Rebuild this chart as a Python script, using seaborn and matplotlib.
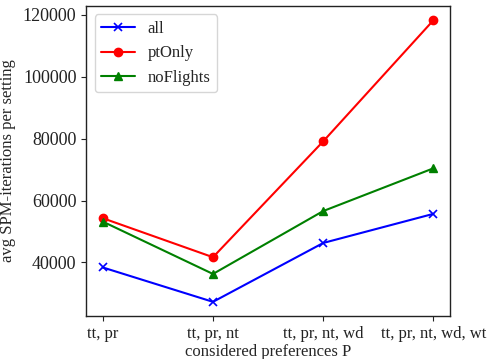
import matplotlib
matplotlib.use("Agg")
import matplotlib.pyplot as plt
import seaborn as sns
import pandas as pd

preferences = ["tt, pr", "tt, pr, nt", "tt, pr, nt, wd", "tt, pr, nt, wd, wt"]
all_iters = [38400, 27300, 46300, 55700]
pt_only_iters = [54300, 41700, 79100, 118200]
no_flights_iters = [53200, 36300, 56600, 70400]

series_names = ["all", "ptOnly", "noFlights"]
series_values = [all_iters, pt_only_iters, no_flights_iters]
series_colors = ["blue", "red", "green"]
series_markers = ["x", "o", "^"]

sns.set_style("ticks")
plt.rcParams["font.family"] = ["Liberation Serif", "DejaVu Serif"]
plt.rcParams["font.size"] = 12

fig = plt.figure(figsize=(4.87, 3.59), dpi=100)
ax = fig.add_axes([0.177, 0.12, 0.747, 0.863])

for name, vals, color, marker in zip(series_names, series_values,
                                     series_colors, series_markers):
    df = pd.DataFrame({"pref": preferences, "iters": vals})
    sns.lineplot(data=df, x="pref", y="iters", color=color, marker=marker,
                 markersize=6, markeredgecolor=color,
                 markeredgewidth=1.2 if marker == "x" else 1.0,
                 linewidth=1.5, label=name, ax=ax, sort=False)

ax.legend(loc="upper left", fontsize=12, frameon=True)

ax.set_xlabel("considered preferences P", fontsize=12, labelpad=2)
ax.set_ylabel("avg SPM-iterations per setting", fontsize=12, labelpad=5)
ax.tick_params(axis="y", labelsize=13, colors="#222222")
ax.tick_params(axis="x", labelsize=12, colors="#222222")
for s in ax.spines.values():
    s.set_color("#222222")
    s.set_linewidth(1.0)

fig.savefig("out.png", dpi=100)
